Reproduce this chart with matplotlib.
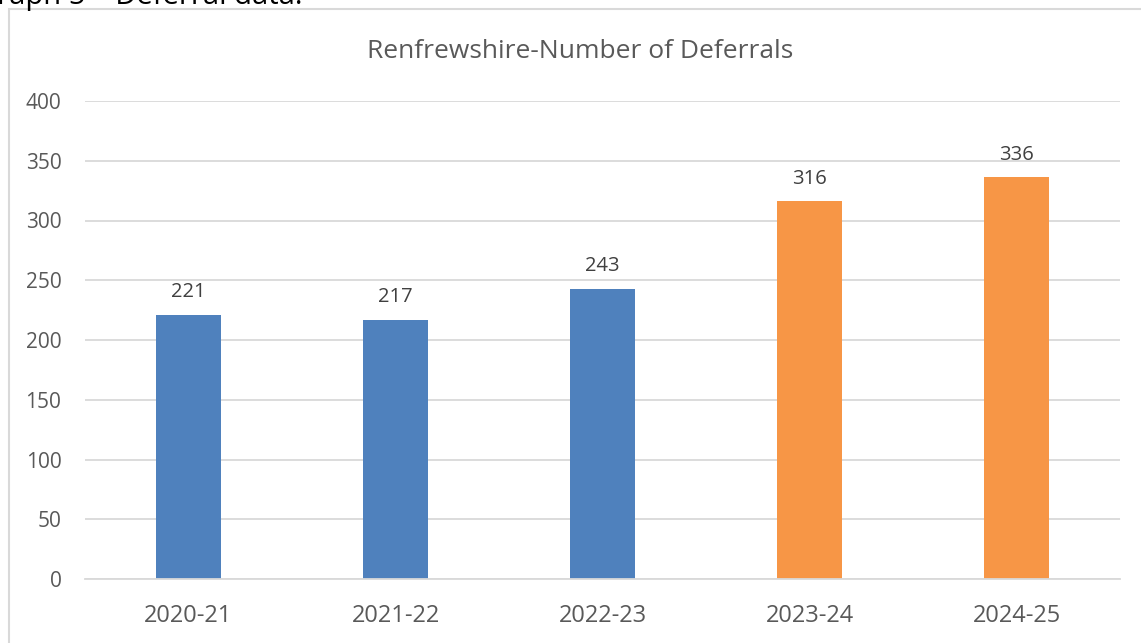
import matplotlib.pyplot as plt
from matplotlib.patches import Rectangle

years = ['2020-21', '2021-22', '2022-23', '2023-24', '2024-25']
deferrals = [221, 217, 243, 316, 336]
bar_colors = ['#4F81BD', '#4F81BD', '#4F81BD', '#F79646', '#F79646']

plt.rcParams['font.family'] = ['Open Sans', 'DejaVu Sans']
grey = '#595959'

fig = plt.figure(figsize=(11.41, 6.43), dpi=100)
ax = fig.add_axes([85 / 1141, 1 - 579 / 643, 1035 / 1141, 478 / 643])

x = range(len(years))
bars = ax.bar(x, deferrals, width=0.315, color=bar_colors, zorder=2)
for b, v in zip(bars, deferrals):
    ax.annotate(str(v), (b.get_x() + b.get_width() / 2, v), xytext=(0, 9),
                textcoords='offset points', ha='center', va='bottom',
                fontsize=14.5, color='#404040')

ax.set_xlim(-0.5, len(years) - 0.5)
ax.set_ylim(0, 400)
ax.set_yticks(range(0, 401, 50))
ax.set_xticks(list(x))
ax.set_xticklabels(years)
ax.yaxis.grid(True, color='#D9D9D9', linewidth=1.3, zorder=0)
ax.tick_params(axis='y', length=0, labelsize=15, labelcolor=grey, pad=17)
ax.tick_params(axis='x', length=0, labelsize=17, labelcolor=grey, pad=18)
for s in ax.spines.values():
    s.set_visible(False)
ax.spines['bottom'].set_visible(True)
ax.spines['bottom'].set_color('#D9D9D9')
ax.spines['bottom'].set_linewidth(1.3)

fig.text(580 / 1141, 1 - 52 / 643, 'Renfrewshire-Number of Deferrals',
         ha='center', va='center', fontsize=19, color=grey)

# outer chart frame, cut off on the right and bottom
fig.patches.append(Rectangle((9 / 1141, -0.05), 1.2, 1 - 9 / 643 + 0.05,
                             transform=fig.transFigure, fill=False,
                             edgecolor='#D9D9D9', linewidth=1.5))

# caption above the chart, mostly cut off
fig.text(302 / 1141, 1 - 4 / 643, 'Graph 5 \u2013 Deferral data.',
         ha='right', va='baseline', fontsize=21, color='black')

fig.savefig('out.png', dpi=100)
